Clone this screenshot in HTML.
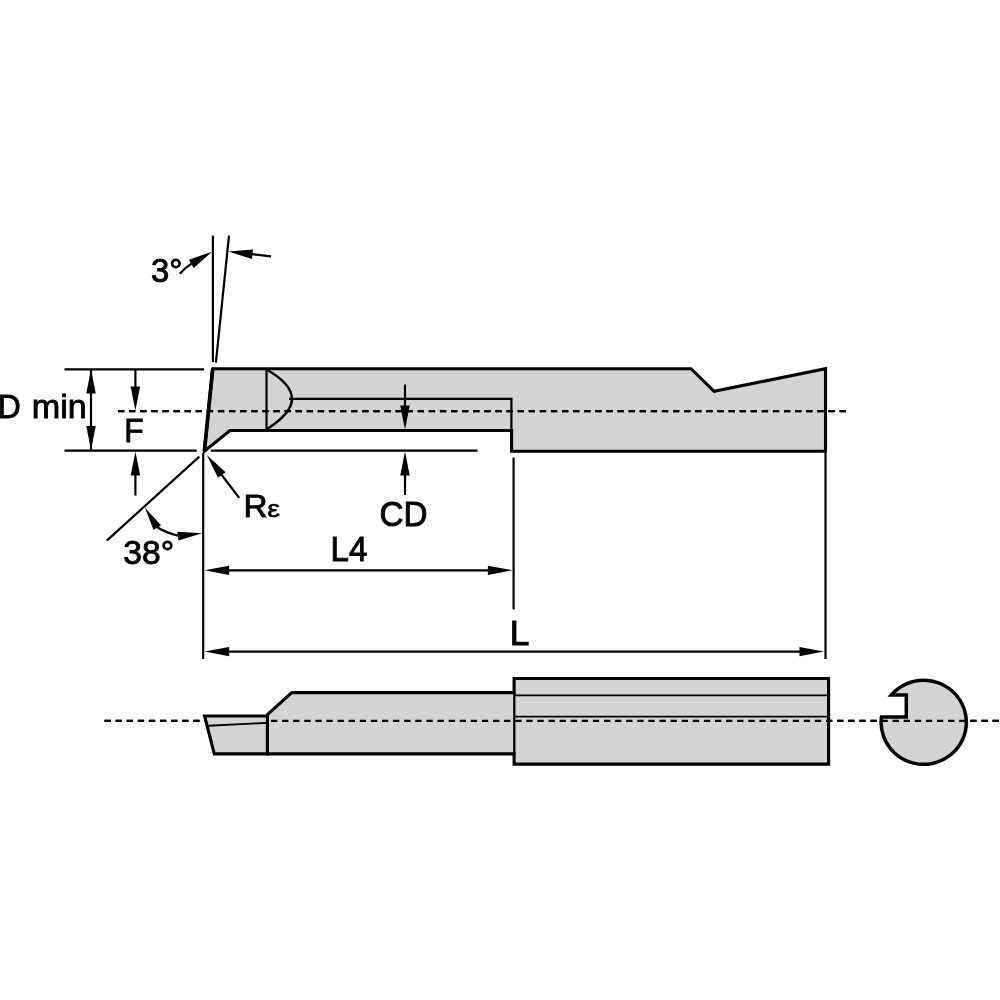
<!DOCTYPE html>
<html lang="en"><head><meta charset="utf-8"><title>Boring bar dimension drawing</title>
<style>html,body{margin:0;padding:0;background:#fff}body{width:1000px;height:1000px;overflow:hidden}svg{display:block}</style>
</head><body>
<svg style="filter:grayscale(1)" width="1000" height="1000" viewBox="0 0 1000 1000">
<rect width="1000" height="1000" fill="#fff"/>
<path d="M212.7,368.7 L691,368.7 L714.1,391.3 L825.5,368.7 L825.5,451.3 L511.6,451.3 L511.6,430.5 L230,430.5 L204.4,451.2 Z" fill="#d4d4d4" stroke="#000" stroke-width="3.1" stroke-linejoin="miter"/>
<path d="M212.7,368.7 L204.4,451.2" fill="none" stroke="#000" stroke-width="3.7" stroke-linecap="butt"/>
<g fill="none" stroke="#000" stroke-width="2.2">
<path d="M266.5,369 L266.5,430"/>
<path d="M266.5,369.5 Q292,384 292,399 Q292,413 266.5,429.5" stroke-width="2.5"/>
<path d="M289,398.8 L511.4,398.8 L511.4,430"/>
</g>
<g fill="none" stroke="#000" stroke-width="2.3" stroke-dasharray="6.3 4.8">
<path d="M118,411.1 L846,411.1"/>
<path d="M104.5,720.8 L1000,720.8"/>
</g>
<g fill="none" stroke="#000" stroke-width="2.2">
<path d="M64.5,369.4 L204,369.4"/>
<path d="M64.5,450.7 L196.7,450.7"/>
<path d="M210.8,450.7 L477.5,450.7"/>
<path d="M91,370 L91,449.5"/>
<path d="M135.4,369.5 L135.4,400"/>
<path d="M135.4,460 L135.4,495.6"/>
<path d="M212.9,235.6 L212.9,362"/>
<path d="M229,235.6 L215.9,362.6"/>
<path d="M179.8,273.8 Q185,267.6 193,262.6"/>
<path d="M250,254 L271,256.4"/>
<path d="M199.3,456.6 L106.8,540.6"/>
<path d="M203.2,453 L203.2,659"/>
<path d="M156.5,526.8 Q166.5,533.2 179,536"/>
<path d="M221,474 L239.2,497.8"/>
<path d="M405,384.5 L405,410"/>
<path d="M405,470 L405,495"/>
<path d="M513.6,457.5 L513.6,609.4"/>
<path d="M825.5,452 L825.5,659"/>
<path d="M220,570.3 L495,570.3"/>
<path d="M220,651.6 L805,651.6"/>
</g>
<g fill="#000" stroke="none">
<polygon points="91.00,369.60 95.75,393.60 86.25,393.60"/>
<polygon points="91.00,450.00 86.25,426.00 95.75,426.00"/>
<polygon points="135.40,410.40 130.65,386.40 140.15,386.40"/>
<polygon points="135.40,451.50 140.15,475.50 130.65,475.50"/>
<polygon points="212.00,251.70 193.70,267.94 188.90,259.75"/>
<polygon points="228.60,251.60 252.98,249.50 251.94,258.95"/>
<polygon points="145.00,507.80 161.03,525.27 153.56,529.91"/>
<polygon points="202.20,533.20 178.36,540.38 177.36,531.63"/>
<polygon points="206.80,455.00 225.60,472.15 218.00,477.85"/>
<polygon points="405.00,429.60 400.25,405.60 409.75,405.60"/>
<polygon points="405.00,451.50 409.75,475.50 400.25,475.50"/>
<polygon points="204.60,570.30 229.10,565.65 229.10,574.95"/>
<polygon points="512.40,570.30 487.90,574.95 487.90,565.65"/>
<polygon points="204.60,651.60 229.10,646.95 229.10,656.25"/>
<polygon points="824.00,651.60 799.50,656.25 799.50,646.95"/>
</g>
<path d="M267.4,714.6 L291.8,692.6 L514.1,692.6 L514.1,678.5 L828.6,678.5 L828.6,764.1 L514.1,764.1 L514.1,753.9 L267.4,753.9 Z" fill="#d4d4d4" stroke="#000" stroke-width="3.1" stroke-linejoin="miter"/>
<path d="M514.3,692.6 L514.3,753.9" fill="none" stroke="#000" stroke-width="2.3"/>
<g fill="none" stroke="#000" stroke-width="1.8">
<path d="M514,695.4 L828,695.4"/>
<path d="M514,716.6 L828,716.6"/>
</g>
<path d="M891.33,695.0 A42.6,42.0 0 1 1 881.43,717.1 L906.3,717.1 L906.3,695.0 Z" fill="#d4d4d4" stroke="#000" stroke-width="3.5" stroke-linejoin="miter"/>
<g fill="none" stroke="#000" stroke-width="2.3" stroke-dasharray="6.3 4.8">
<path d="M118,411.1 L846,411.1"/>
<path d="M104.5,720.8 L1000,720.8"/>
</g>
<path d="M204.6,716 L267.4,716 L267.4,753.9 L214.3,753.9 Z" fill="#d4d4d4" stroke="#000" stroke-width="3.1" stroke-linejoin="miter"/>
<path d="M208.6,725.8 L266,722.9" fill="none" stroke="#000" stroke-width="1.9"/>
<g font-family="Liberation Sans, Arial, Helvetica, sans-serif" font-size="33.5" fill="#000" stroke="#000" stroke-width="0.9">
<text transform="translate(151.06,281.77) scale(0.982,0.975)">3°</text>
<text transform="translate(-2.24,417.60) scale(0.949,1.004)">D</text>
<text transform="translate(31.72,417.71) scale(1.020,0.982)">min</text>
<text transform="translate(124.36,442.01) scale(0.950,0.987)">F</text>
<text transform="translate(243.56,517.02) scale(0.994,0.958)">R</text>
<text transform="translate(267.36,517.36) scale(0.850,0.722)">ε</text>
<text transform="translate(123.25,564.07) scale(1.005,0.975)">38°</text>
<text transform="translate(379.56,526.42) scale(0.993,1.044)">CD</text>
<text transform="translate(330.58,560.99) scale(0.986,1.021)">L4</text>
<text transform="translate(509.83,644.99) scale(1.054,1.029)">L</text>
</g>
</svg>
</body></html>
